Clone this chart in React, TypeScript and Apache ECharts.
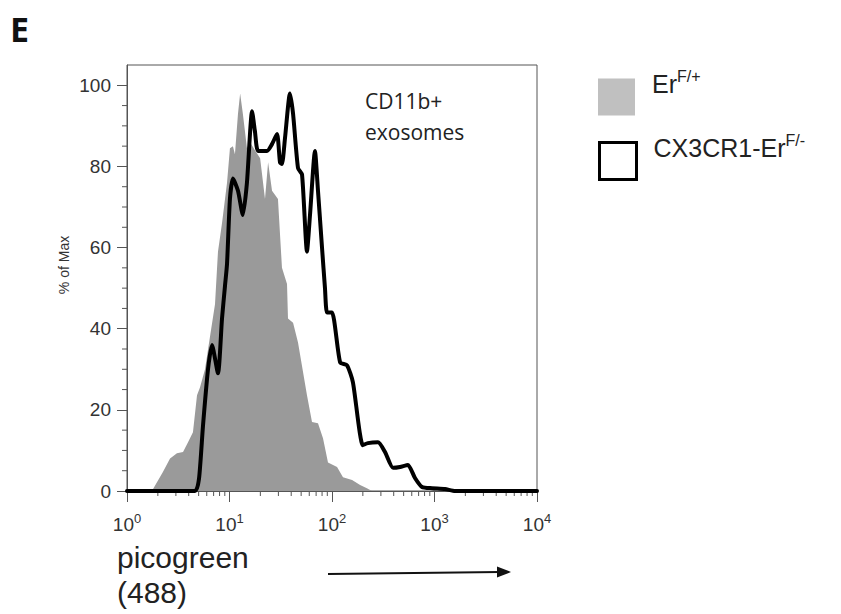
import React, { useEffect, useRef } from 'react';
import * as echarts from 'echarts';

const FONT = 'Liberation Sans, Arial, sans-serif';

const seriesNames = ['ErF/+', 'CX3CR1-ErF/-'];
const legendBase = ['Er', 'CX3CR1-Er'];
const legendSup = ['F/+', 'F/-'];

const xMinorTicks = [2, 3, 4, 5, 6, 7, 8, 9, 20, 30, 40, 50, 60, 70, 80, 90, 200, 300, 400, 500, 600, 700, 800, 900, 2000, 3000, 4000, 5000, 6000, 7000, 8000, 9000];
const yMajorTicks = [0, 20, 40, 60, 80, 100];
const yMinorTicks = [5, 10, 15, 25, 30, 35, 45, 50, 55, 65, 70, 75, 85, 90, 95];

const grayX = [1.75, 2.24, 2.63, 3.07, 3.52, 3.94, 4.4, 4.82, 5.15, 5.77, 6.45, 7.22, 7.72, 8.45, 9.46, 10.1, 10.8, 11.3, 12.1, 12.7, 13.5, 14.8, 15.8, 17.7, 19.9, 22.2, 23.8, 26.0, 29.7, 32.5, 36.4, 37.2, 41.7, 46.6, 57.0, 63.8, 73.0, 81.7, 91.4, 112, 128, 157, 188, 219, 245];
const grayY = [0, 4.7, 8, 9.3, 9.6, 12, 14.5, 23.6, 25.5, 30, 38, 46, 59, 66, 76, 84.5, 85, 83, 93, 98, 93, 84.5, 86, 84, 82, 72, 81, 74, 72, 55, 51, 42.5, 41.5, 36.6, 23.6, 17, 16.7, 13, 7, 5.9, 3.4, 2.7, 1.5, 0.7, 0];

const blackX = [1, 4.61, 5.04, 5.51, 6.17, 6.75, 7.72, 8.45, 9.04, 9.46, 10.1, 10.8, 12.1, 13.5, 14.8, 16.6, 17.7, 19.0, 23.2, 26.0, 29.1, 31.1, 32.5, 34.8, 38.9, 41.7, 46.6, 51.0, 57.0, 61.0, 68.2, 73.0, 79.9, 85.4, 89.4, 100, 120, 140, 160, 200, 224, 281, 329, 394, 461, 551, 645, 755, 946, 1266, 1585, 10000];
const blackY = [0, 0, 3, 16, 30, 36, 29, 42.5, 50.6, 56, 72, 77, 74, 68, 76, 93.6, 88.7, 83.8, 83.8, 85.5, 88, 81, 80.6, 87, 98, 93, 79.6, 78, 59, 68, 83.8, 74, 60, 50, 44, 44, 31.7, 31, 26.8, 11.3, 11.8, 12, 9.6, 5.7, 5.9, 6.4, 3.2, 1, 0.7, 0.5, 0, 0];

const AXIS_COLOR = '#555';
const LABEL_COLOR = '#333';

const legendIconStyles = [
  { color: '#c0c0c0', borderWidth: 0 },
  { color: '#ffffff', borderColor: '#000', borderWidth: 3 },
];

export default function App() {
  const ref = useRef<HTMLDivElement>(null);

  useEffect(() => {
    if (!ref.current) return;
    const chart = echarts.init(ref.current, undefined, { renderer: 'svg' });

    const grayData = grayX.map((x, i) => [x, grayY[i]]);
    const blackData = blackX.map((x, i) => [x, blackY[i]]);

    const makeLegend = (i: number, top: number) => ({
      orient: 'vertical',
      left: 593,
      top,
      itemWidth: 37,
      itemHeight: 37,
      icon: 'rect',
      selectedMode: false,
      data: [{ name: seriesNames[i], icon: 'rect', itemStyle: legendIconStyles[i] }],
      formatter: (name: string) => {
        const k = seriesNames.indexOf(name);
        return `{a|${legendBase[k]}}{s|${legendSup[k]}}`;
      },
      textStyle: {
        padding: [0, 0, 30, 12],
        rich: {
          a: { fontSize: 25, color: '#222', fontFamily: FONT, lineHeight: 28, verticalAlign: 'bottom' },
          s: { fontSize: 16, color: '#222', fontFamily: FONT, lineHeight: 18, verticalAlign: 'top' },
        },
      },
    });

    chart.setOption({
      animation: false,
      backgroundColor: '#fff',
      textStyle: { fontFamily: FONT },
      grid: {
        left: 127,
        right: 304,
        top: 65,
        bottom: 123,
        show: true,
        borderColor: AXIS_COLOR,
        borderWidth: 1,
        backgroundColor: 'transparent',
        containLabel: false,
        outerBoundsMode: 'none',
      },
      xAxis: {
        type: 'log',
        logBase: 10,
        min: 1,
        max: 10000,
        axisLine: { show: true, onZero: false, lineStyle: { color: AXIS_COLOR, width: 1 } },
        axisTick: { show: true, length: 11, lineStyle: { color: AXIS_COLOR, width: 1 } },
        minorTick: { show: false },
        splitLine: { show: false },
        axisLabel: {
          margin: 21,
          formatter: (v: number) => `{b|10}{s|${Math.round(Math.log10(v))}}`,
          rich: {
            b: { fontSize: 19, color: LABEL_COLOR, fontFamily: FONT, verticalAlign: 'bottom', lineHeight: 22 },
            s: { fontSize: 13, color: LABEL_COLOR, fontFamily: FONT, verticalAlign: 'top', lineHeight: 14 },
          },
        },
      },
      yAxis: {
        type: 'value',
        min: 0,
        max: 105,
        interval: 20,
        axisLine: { show: true, lineStyle: { color: AXIS_COLOR, width: 1 } },
        axisTick: { show: true, length: 10, customValues: yMajorTicks, lineStyle: { color: AXIS_COLOR, width: 1 } },
        axisLabel: {
          customValues: yMajorTicks,
          formatter: (v: number) => (v % 20 === 0 ? String(v) : ''),
          fontSize: 19,
          color: LABEL_COLOR,
          fontFamily: FONT,
          margin: 16,
        },
        splitLine: { show: false },
      },
      legend: [makeLegend(0, 63), makeLegend(1, 127)],
      series: [
        {
          name: seriesNames[0],
          type: 'line',
          data: grayData,
          showSymbol: false,
          symbol: 'none',
          lineStyle: { width: 0, color: '#9a9a9a' },
          itemStyle: { color: '#c0c0c0' },
          areaStyle: { color: '#9a9a9a', opacity: 1 },
          z: 2,
          silent: true,
        },
        {
          name: seriesNames[1],
          type: 'line',
          data: blackData,
          showSymbol: false,
          symbol: 'none',
          smooth: 0.2,
          lineStyle: { width: 4, color: '#000', join: 'round', cap: 'round' },
          itemStyle: { color: '#000' },
          z: 3,
          silent: true,
        },
        {
          type: 'custom',
          coordinateSystem: 'cartesian2d',
          clip: false,
          silent: true,
          data: xMinorTicks.map((v) => [v, 0]),
          renderItem: (_p: any, api: any) => {
            const p = api.coord([api.value(0), api.value(1)]);
            return {
              type: 'line',
              shape: { x1: p[0], y1: p[1], x2: p[0], y2: p[1] + 5 },
              style: { stroke: AXIS_COLOR, lineWidth: 1 },
            };
          },
          z: 1,
        },
        {
          type: 'custom',
          coordinateSystem: 'cartesian2d',
          clip: false,
          silent: true,
          data: yMinorTicks.map((v) => [1, v]),
          renderItem: (_p: any, api: any) => {
            const p = api.coord([api.value(0), api.value(1)]);
            return {
              type: 'line',
              shape: { x1: p[0] - 5, y1: p[1], x2: p[0], y2: p[1] },
              style: { stroke: AXIS_COLOR, lineWidth: 1 },
            };
          },
          z: 1,
        },
      ],
      graphic: [
        {
          type: 'text',
          left: 10,
          top: 12,
          style: { text: 'E', fontSize: 34, fontWeight: 'bold', fontFamily: 'Open Sans, sans-serif', fill: '#111' },
        },
        {
          type: 'text',
          x: 64,
          y: 265,
          rotation: Math.PI / 2,
          style: { text: '% of Max', fontSize: 14, fontFamily: FONT, fill: '#333', align: 'center', verticalAlign: 'middle' },
        },
        {
          type: 'text',
          left: 365,
          top: 85,
          style: { text: 'CD11b+\nexosomes', fontSize: 21, lineHeight: 31, fontFamily: 'Open Sans, sans-serif', fill: '#222' },
        },
        {
          type: 'text',
          left: 117,
          top: 540,
          style: { text: 'picogreen\n(488)', fontSize: 30, lineHeight: 35, fontFamily: FONT, fill: '#222' },
        },
        {
          type: 'line',
          shape: { x1: 328, y1: 574, x2: 500, y2: 572 },
          style: { stroke: '#111', lineWidth: 2 },
        },
        {
          type: 'polygon',
          shape: { points: [[497, 566.5], [511, 572], [497, 577.5]] },
          style: { fill: '#111' },
        },
      ],
    });

    return () => chart.dispose();
  }, []);

  return (
    <div
      ref={ref}
      style={{ position: 'absolute', left: 0, top: 0, width: 841, height: 614, background: '#fff' }}
    />
  );
}
